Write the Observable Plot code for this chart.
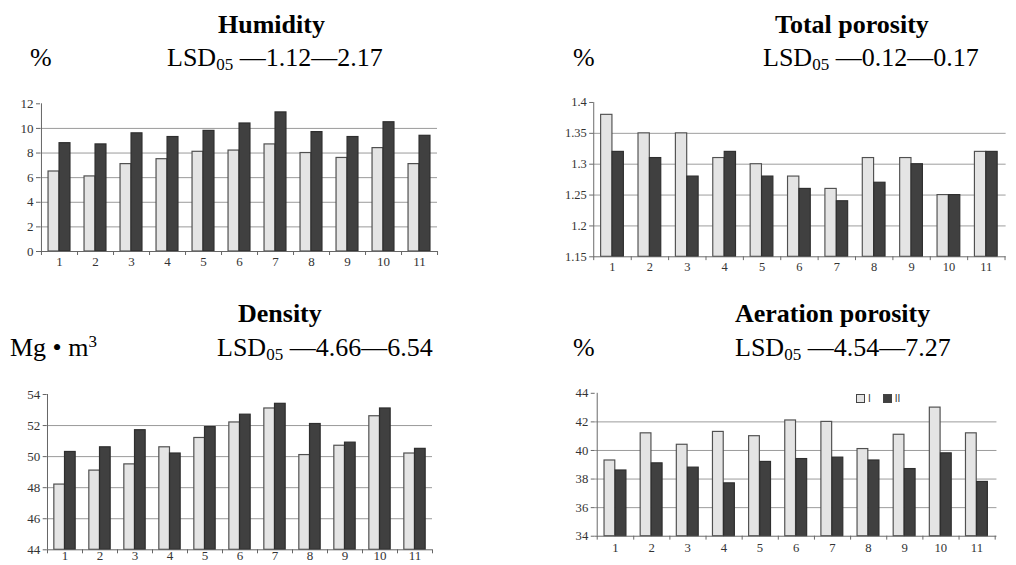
<!DOCTYPE html>
<html>
<head>
<meta charset="utf-8">
<script src="https://cdn.jsdelivr.net/npm/d3@7"></script>
<script src="https://cdn.jsdelivr.net/npm/@observablehq/plot@0.6"></script>
<style>
  html, body { margin: 0; padding: 0; background: #fff; overflow: hidden; }
  #page { position: relative; width: 1016px; height: 565px; overflow: hidden; font-family: "Liberation Serif", "Times New Roman", serif; color: #000; }
  .t { position: absolute; white-space: nowrap; font-size: 26px; line-height: 26px; }
  .b { font-weight: bold; }
  .panel { position: absolute; }
  .legend { position: absolute; font-family: "Liberation Sans", Arial, sans-serif; font-size: 10px; color: #333; display: flex; align-items: center; }
  .sw { display: inline-block; width: 7px; height: 7px; border: 1px solid #444; margin-right: 3px; }
</style>
</head>
<body>
<div id="page">
  <div class="t b" style="left:218px; top:11.5px;">Humidity</div>
  <div class="t" style="left:30px; top:45px;">%</div>
  <div class="t" style="left:167px; top:45px;">LSD<sub style="font-size:17px; vertical-align:-4px; line-height:0;">05</sub> —1.12—2.17</div>

  <div class="t b" style="left:775px; top:11.5px;">Total porosity</div>
  <div class="t" style="left:573px; top:45px;">%</div>
  <div class="t" style="left:763px; top:45px;">LSD<sub style="font-size:17px; vertical-align:-4px; line-height:0;">05</sub> —0.12—0.17</div>

  <div class="t b" style="left:238px; top:301px;">Density</div>
  <div class="t" style="left:10px; top:335px;">Mg • m<sup style="font-size:17px; vertical-align:9px; line-height:0;">3</sup></div>
  <div class="t" style="left:217px; top:335px;">LSD<sub style="font-size:17px; vertical-align:-4px; line-height:0;">05</sub> —4.66—6.54</div>

  <div class="t b" style="left:735px; top:301px;">Aeration porosity</div>
  <div class="t" style="left:573px; top:335px;">%</div>
  <div class="t" style="left:735px; top:335px;">LSD<sub style="font-size:17px; vertical-align:-4px; line-height:0;">05</sub> —4.54—7.27</div>

  <div id="p1" class="panel"></div>
  <div id="p2" class="panel"></div>
  <div id="p3" class="panel"></div>
  <div id="p4" class="panel"></div>

  <div class="legend" style="left:856px; top:393px;">
    <span class="sw" style="background:#e4e4e4;"></span><span style="margin-right:12px;">I</span>
    <span class="sw" style="background:#404040;"></span><span>II</span>
  </div>
</div>
<script>
// ---- data ----
const categories = ["1","2","3","4","5","6","7","8","9","10","11"];
const seriesNames = ["I", "II"];

const humidityI  = [6.5, 6.1, 7.1, 7.5, 8.1, 8.2, 8.7, 8.0, 7.6, 8.4, 7.1];
const humidityII = [8.8, 8.7, 9.6, 9.3, 9.8, 10.4, 11.3, 9.7, 9.3, 10.5, 9.4];
const humidityTicks = [0, 2, 4, 6, 8, 10, 12];

const totalPorosityI  = [1.38, 1.35, 1.35, 1.31, 1.30, 1.28, 1.26, 1.31, 1.31, 1.25, 1.32];
const totalPorosityII = [1.32, 1.31, 1.28, 1.32, 1.28, 1.26, 1.24, 1.27, 1.30, 1.25, 1.32];
const totalPorosityTicks = [1.15, 1.2, 1.25, 1.3, 1.35, 1.4];

const densityI  = [48.2, 49.1, 49.5, 50.6, 51.2, 52.2, 53.1, 50.1, 50.7, 52.6, 50.2];
const densityII = [50.3, 50.6, 51.7, 50.2, 51.9, 52.7, 53.4, 52.1, 50.9, 53.1, 50.5];
const densityTicks = [44, 46, 48, 50, 52, 54];

const aerationI  = [39.3, 41.2, 40.4, 41.3, 41.0, 42.1, 42.0, 40.1, 41.1, 43.0, 41.2];
const aerationII = [38.6, 39.1, 38.8, 37.7, 39.2, 39.4, 39.5, 39.3, 38.7, 39.8, 37.8];
const aerationTicks = [34, 36, 38, 40, 42, 44];

// ---- drawing ----
function panel(el, box, valsI, valsII, ticks) {
  const {left, top, width, height, mL, mR, mT, mB, xPad} = box;
  const ymin = ticks[0], ymax = ticks[ticks.length - 1];
  const table = categories.map((c, i) => ({cat: c, I: valsI[i], II: valsII[i]}));
  const plotW = width - mL - mR, plotH = height - mT - mB;
  const step = plotW / categories.length;
  const outer = step * 0.195, half = step * 0.5;
  const tickDelta = (ymax - ymin) * 4 / plotH;
  const grid = ticks.slice(1, -1);
  const chart = Plot.plot({
    width, height,
    marginLeft: mL, marginRight: mR, marginTop: mT, marginBottom: mB,
    style: {fontFamily: "'Liberation Serif', 'Times New Roman', serif", fontSize: "13px", color: "#333", background: "transparent", overflow: "visible"},
    x: {type: "band", domain: categories, padding: 0, axis: null},
    y: {domain: [ymin, ymax], axis: null},
    marks: [
      Plot.ruleY(grid, {stroke: "#9a9a9a", strokeWidth: 1}),
      Plot.barY(table, {x: "cat", y1: ymin, y2: "I", fill: "#e4e4e4", stroke: "#505050", strokeWidth: 1.2, insetLeft: outer, insetRight: half}),
      Plot.barY(table, {x: "cat", y1: ymin, y2: "II", fill: "#404040", stroke: "#2e2e2e", strokeWidth: 1.2, insetLeft: half, insetRight: outer}),
      Plot.ruleY([ymin], {stroke: "#666"}),
      Plot.ruleX([categories[0]], {x: d => d, y1: ymin, y2: ymax, dx: -step / 2, stroke: "#666"}),
      Plot.ruleX([categories[0]], {x: d => d, y1: ymin, y2: ymin - tickDelta, dx: -step / 2, stroke: "#666"}),
      Plot.ruleX(categories, {x: d => d, y1: ymin, y2: ymin - tickDelta, dx: step / 2, stroke: "#666"}),
      Plot.axisY({ticks, tickSize: 4, tickPadding: 3, stroke: "#666", label: null, tickFormat: d => String(d)}),
      Plot.axisX({tickSize: 0, tickPadding: xPad, label: null})
    ]
  });
  const host = document.getElementById(el);
  host.style.left = left + "px";
  host.style.top = top + "px";
  host.appendChild(chart);
}

panel("p1", {left: 0, top: 95, width: 460, height: 180, mL: 40, mR: 23, mT: 8.3, mB: 24, xPad: 5}, humidityI, humidityII, humidityTicks);
panel("p2", {left: 508, top: 95, width: 530, height: 185, mL: 88.7, mR: 10.8, mT: 7.3, mB: 16.7, xPad: 6}, totalPorosityI, totalPorosityII, totalPorosityTicks);
panel("p3", {left: 0, top: 385, width: 450, height: 180, mL: 46.7, mR: 18, mT: 9, mB: 15.7, xPad: 1}, densityI, densityII, densityTicks);
panel("p4", {left: 508, top: 385, width: 520, height: 175, mL: 88.7, mR: 20, mT: 8, mB: 20.7, xPad: 7}, aerationI, aerationII, aerationTicks);
</script>
</body>
</html>
